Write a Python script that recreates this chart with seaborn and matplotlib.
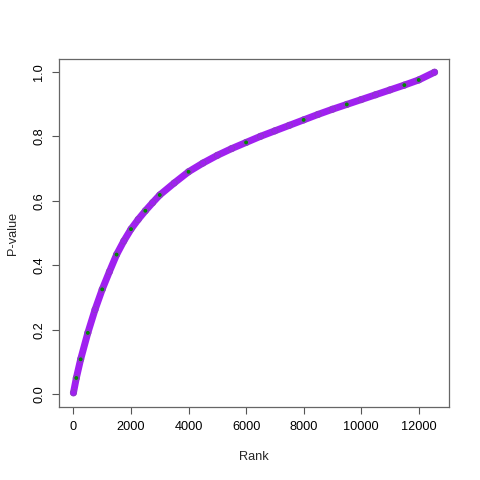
import matplotlib
matplotlib.use("Agg")
import matplotlib.pyplot as plt
import seaborn as sns
import pandas as pd

# values (sorted p-values vs rank)
rank = [0, 100, 250, 500, 750, 1000, 1250, 1500, 1750, 2000, 2250, 2500, 2750,
        3000, 3500, 4000, 4500, 5000, 5500, 6000, 6500, 7000, 7500, 8000, 8500,
        9000, 9500, 10000, 10500, 11000, 11500, 12000, 12550]
pvalue = [0.004, 0.05, 0.108, 0.19, 0.262, 0.325, 0.38, 0.433, 0.475, 0.512,
          0.542, 0.569, 0.594, 0.618, 0.655, 0.69, 0.717, 0.741, 0.762, 0.781,
          0.80, 0.817, 0.834, 0.851, 0.868, 0.884, 0.899, 0.914, 0.929, 0.944,
          0.959, 0.975, 0.999]
green_rank = [100, 250, 500, 1000, 1500, 2000, 2500, 3000, 4000, 6000, 8000, 9500, 11500, 12000]
green_p = [0.05, 0.108, 0.19, 0.325, 0.433, 0.512, 0.569, 0.618, 0.69, 0.781, 0.851, 0.899, 0.959, 0.975]

xticks = [0, 2000, 4000, 6000, 8000, 10000, 12000]
yticks = [0.0, 0.2, 0.4, 0.6, 0.8, 1.0]

sns.set_style("white")
plt.rcParams['font.family'] = ['Liberation Sans', 'DejaVu Sans']

df = pd.DataFrame({"Rank": rank, "P-value": pvalue})
dg = pd.DataFrame({"Rank": green_rank, "P-value": green_p})

fig = plt.figure(figsize=(4.8, 4.8), dpi=100)
ax = fig.add_axes([59/480, 73/480, 390/480, 348/480])

purple = "#A020F0"
sns.lineplot(data=df, x="Rank", y="P-value", ax=ax, color=purple, linewidth=5.0,
             solid_capstyle="round", solid_joinstyle="round", sort=False)
sns.scatterplot(data=dg, x="Rank", y="P-value", ax=ax, color="#008B00", s=8,
                edgecolor="none", zorder=3)
sns.scatterplot(data=df, x="Rank", y="P-value", ax=ax, facecolor="none",
                edgecolor="#8a3fc0", s=20, linewidth=0.6, zorder=4)

ax.set_xlim(-502, 13052)
ax.set_ylim(-0.04, 1.04)
ax.set_xticks(xticks)
ax.set_xticklabels([str(t) for t in xticks])
ax.set_yticks(yticks)
ax.set_yticklabels([f"{t:.1f}" for t in yticks], rotation=90, va="center")
ax.tick_params(axis="both", direction="out", length=5, width=0.8, color="#555555",
               labelsize=9.2, labelcolor="black", pad=5, left=True, bottom=True)
for s in ax.spines.values():
    s.set_color("#666666")
    s.set_linewidth(0.9)
ax.set_xlabel("Rank", fontsize=9.2, labelpad=13)
ax.set_ylabel("P-value", fontsize=9.2, labelpad=10)

fig.savefig("out.png", dpi=100)
